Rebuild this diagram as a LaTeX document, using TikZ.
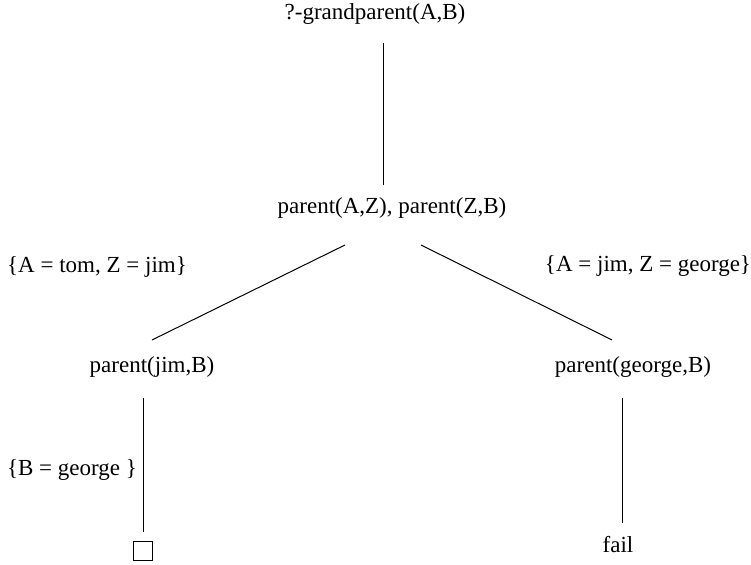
\documentclass[tikz,border=0pt]{standalone}
\usepackage{fontspec}
\setmainfont{Liberation Serif}
\usetikzlibrary{calc}

\begin{document}
\begin{tikzpicture}[x=0.5pt,y=-0.5pt,line width=0.5pt,
                    every node/.style={font=\fontsize{11.5}{14}\selectfont, inner sep=0pt},
                    goal/.style={},
                    subst/.style={},
                    done/.style={draw, minimum size=9.5pt}]
                    \useasboundingbox (0,0) rectangle (751,565);

                    \node [goal](g) at (375,14) {?-grandparent(A,B)};
                    \node [goal](pz) at (392,208) {parent(A,Z), parent(Z,B)};
                    \node [goal](pj) at (152,367) {parent(jim,B)};
                    \node [goal](pg) at (633,367) {parent(george,B)};
                    \node [done](box) at (143,551) {};
                    \node [goal](fail) at (618,545) {fail};

                    \node [subst](s1) at (97,267) {\{A = tom, Z = jim\}};
                    \node [subst](s2) at (648,266) {\{A = jim, Z = george\}};
                    \node [subst](s3) at (72,470) {\{B = george \}};

                    \draw ($(g)+(8,29)$) -- ($(pz)+(-9,-23)$);
                    \draw ($(pz)+(-47,37)$) -- ($(pj)+(0,-27)$);
                    \draw ($(pz)+(29,37)$) -- ($(pg)+(-21,-27)$);
                    \draw ($(pj)+(-9,31)$) -- ($(box.north)+(0,-8.5)$);
                    \draw ($(pg)+(-11,31)$) -- ($(fail)+(4,-22)$);

                \end{tikzpicture}
\end{document}
